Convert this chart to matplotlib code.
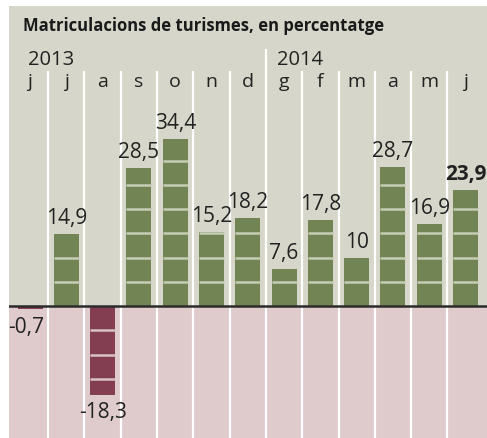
import math
import matplotlib
matplotlib.use("Agg")
import matplotlib.pyplot as plt

# ---- data ----
months = ["j", "j", "a", "s", "o", "n", "d", "g", "f", "m", "a", "m", "j"]
values = [-0.7, 14.9, -18.3, 28.5, 34.4, 15.2, 18.2, 7.6, 17.8, 10, 28.7, 16.9, 23.9]
labels = ["-0,7", "14,9", "-18,3", "28,5", "34,4", "15,2", "18,2", "7,6", "17,8", "10", "28,7", "16,9", "23,9"]
years = ["2013", "2014"]
year_start_idx = [0, 7]
title = "Matriculacions de turismes, en percentatge"
block = 5

W, H = 487, 439
fig = plt.figure(figsize=(W / 100, H / 100), dpi=100)
fig.patch.set_facecolor("white")

# panel geometry (pixels)
pl, pt = 9, 7
zero_px = 307.0
ppu = 4.85        # pixels per unit
col_w = 36.3
c0 = 30.0

ax = fig.add_axes([pl / W, 0, (W - pl) / W, (H - pt) / H])
ymax = (zero_px - pt) / ppu
ymin = -(H - zero_px) / ppu
xmin = (pl - c0) / col_w
xmax = (W - c0) / col_w
ax.set_xlim(xmin, xmax)
ax.set_ylim(ymin, ymax)
ax.axis("off")

beige = "#d6d7ca"
pink = "#dfcbcb"
green = "#728453"
maroon = "#843e52"
ax.axhspan(0, ymax, color=beige, zorder=0)
ax.axhspan(ymin, 0, color=pink, zorder=0)

n = len(values)
# separators
for i in range(n - 1):
    top = (zero_px - 50) / ppu if (i + 1) in year_start_idx else (zero_px - 72) / ppu
    ax.vlines(i + 0.5, ymin, top, color="white", lw=1.6, zorder=1)

bw = 25 / col_w
xs = list(range(n))
for x, v, lab in zip(xs, values, labels):
    col = green if v >= 0 else maroon
    gapc = "#c7ccb4" if v >= 0 else "#d9c3c6"
    ax.bar(x, v, width=bw, color=col, edgecolor="none", zorder=2)
    k = 1
    while k * block < abs(v):
        yy = k * block * (1 if v >= 0 else -1)
        ax.hlines(yy, x - bw / 2, x + bw / 2, color=gapc, lw=1.8, zorder=3)
        k += 1
    bold = (x == n - 1)
    if v >= 0:
        ax.text(x, v + 1.2, lab, ha="center", va="bottom", fontsize=15,
                family="Open Sans", fontweight="bold" if bold else "normal",
                color="#222222", zorder=4)
    else:
        dx = -0.12 if x == 0 else 0
        ax.text(x + dx, v - 1.3, lab, ha="center", va="top", fontsize=15,
                family="Open Sans", color="#222222", zorder=4)

ax.axhline(0, color="#2b2b2b", lw=1.8, zorder=5)

# month labels
for x, m in zip(xs, months):
    ax.text(x, (zero_px - 82) / ppu, m, ha="center", va="center", fontsize=14,
            family="Open Sans", color="#222222", zorder=4)
# year labels
year_dx = [0.445, 0.30]
for yl, idx, d in zip(years, year_start_idx, year_dx):
    ax.text(idx - 0.5 + d, (zero_px - 60) / ppu, yl, ha="left", va="center",
            fontsize=14.5, family="Open Sans", color="#222222", zorder=4)

fig.text(23 / W, 1 - 26 / H, title, ha="left", va="center", fontsize=12,
         family=["Liberation Sans Narrow", "Open Sans"], fontweight="bold", color="#1a1a1a")

fig.savefig("out.png", dpi=100, facecolor="white")
